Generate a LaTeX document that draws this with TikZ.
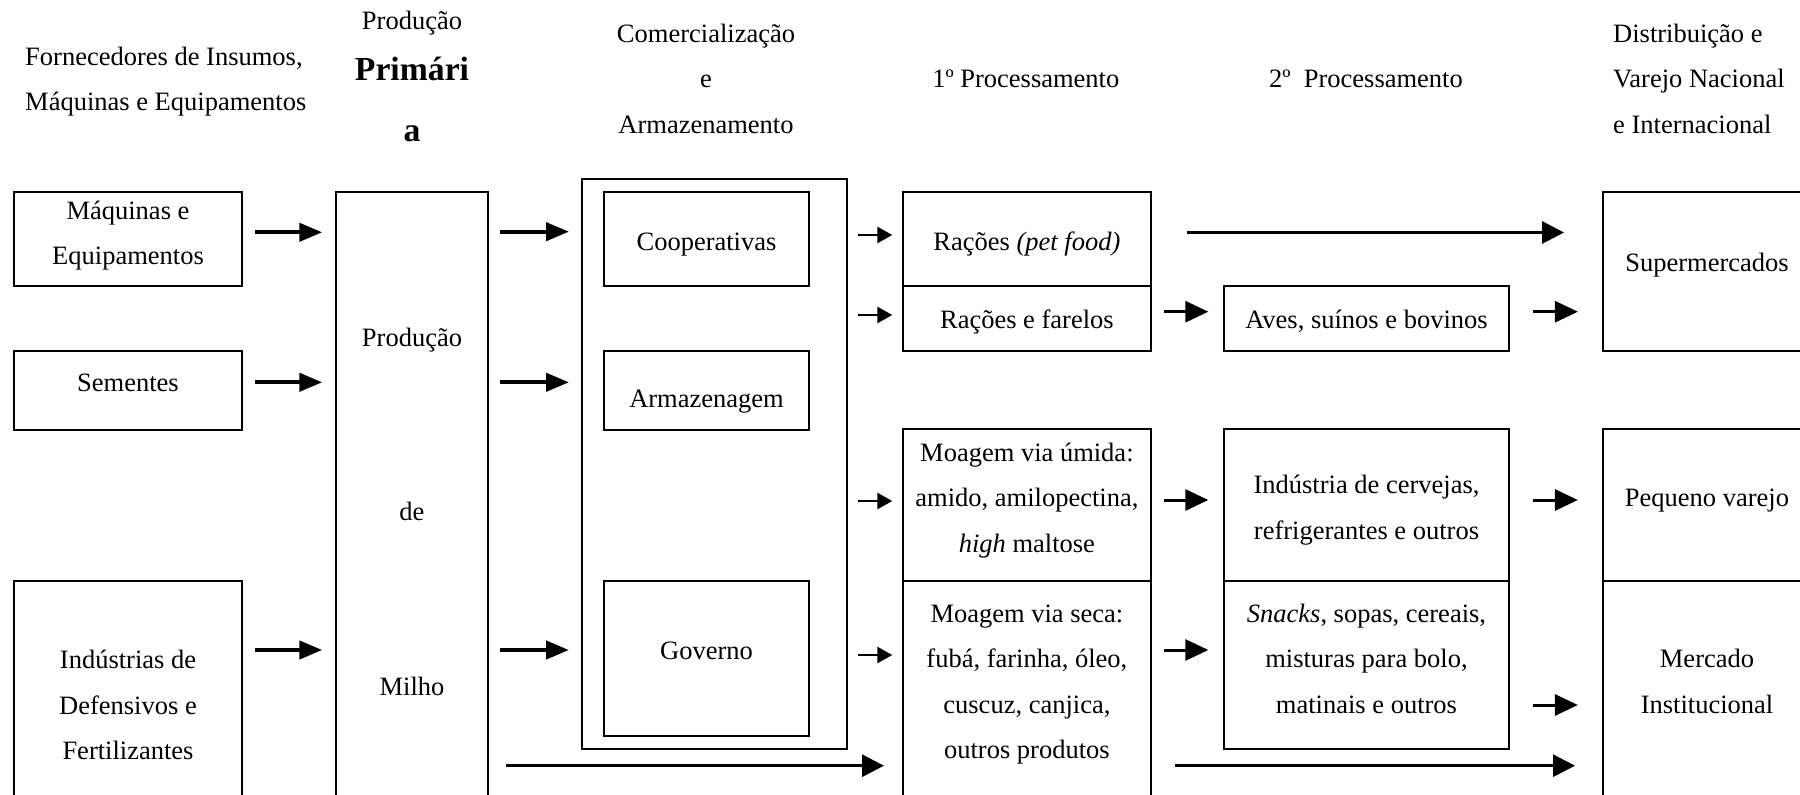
\documentclass[tikz,border=0pt]{standalone}
\usepackage{fontspec}
\setmainfont{Liberation Serif}
\usetikzlibrary{arrows.meta,calc}
\begin{document}
\begin{tikzpicture}[x=1pt,y=-1pt,
  box/.style={draw, line width=2pt, rectangle, inner sep=0pt},
  txt/.style={align=center, inner sep=0pt, font=\fontsize{26.5pt}{45.5pt}\selectfont},
  boldtxt/.style={inner sep=0pt, font=\fontsize{33.7pt}{40pt}\selectfont\bfseries},
  bigarr/.style={line width=4.3pt, -{Triangle[length=23pt,width=18pt]}},
  smallarr/.style={line width=2.7pt, -{Triangle[length=15pt,width=16pt]}},
  medarr/.style={line width=3pt, -{Triangle[length=23pt,width=21pt]}},
  longarr/.style={line width=3pt, -{Triangle[length=22pt,width=22pt]}}
]
\useasboundingbox (0,0) rectangle (1800,795);
\clip (0,0) rectangle (1800,795);

% ---------- headers ----------
\node[txt, align=left, anchor=west, font=\fontsize{26.5pt}{45pt}\selectfont] (hforn) at (25,81.5) {Fornecedores de Insumos,\\Máquinas e Equipamentos};
\node[txt, anchor=base] (hprodA) at (412,29.2) {Produção};
\node[boldtxt, anchor=base] (hprodB) at (412,80) {Primári};
\node[boldtxt, anchor=base] (hprodC) at (412,141) {a};
\node[txt] (hcom) at (706,78.7) {Comercialização\\e\\Armazenamento};
\node[txt] (hproc1) at (1025.8,79) {1º Processamento};
\node[txt] (hproc2) at (1366,79) {2º\ \ Processamento};
\node[txt, align=left, anchor=west] (hdist) at (1613,78.5) {Distribuição e\\Varejo Nacional\\e Internacional};

% ---------- boxes ----------
\node[box, minimum width=228pt, minimum height=94pt] (maq) at (128,238.7) {};
\node[box, minimum width=228pt, minimum height=79.3pt] (sem) at (128,390.4) {};
\node[box, minimum width=228pt, minimum height=249pt] (ind) at (128,705.5) {};
\node[box, minimum width=152pt, minimum height=640pt] (prod) at (412,511.7) {};
\node[box, minimum width=265pt, minimum height=569.7pt] (com) at (714.5,464.2) {};
\node[box, minimum width=205pt, minimum height=94pt] (coop) at (706.5,238.7) {};
\node[box, minimum width=205pt, minimum height=79.3pt] (arm) at (706.5,390.4) {};
\node[box, minimum width=205pt, minimum height=154.7pt] (gov) at (706.5,658.4) {};
\node[box, minimum width=247.2pt, minimum height=94pt] (racpet) at (1026.9,238.7) {};
\node[box, minimum width=247.2pt, minimum height=65.3pt] (racfar) at (1026.9,318.4) {};
\node[box, minimum width=247.2pt, minimum height=151.7pt] (umida) at (1026.9,505.2) {};
\node[box, minimum width=247.2pt, minimum height=249pt] (seca) at (1026.9,705.5) {};
\node[box, minimum width=284.2pt, minimum height=65.3pt] (aves) at (1366.5,318.4) {};
\node[box, minimum width=284.2pt, minimum height=151.7pt] (cerv) at (1366.5,505.2) {};
\node[box, minimum width=284.2pt, minimum height=168pt] (snack) at (1366.5,665) {};
\node[box, minimum width=209.5pt, minimum height=159.3pt] (super) at (1707.25,271.4) {};
\node[box, minimum width=209.5pt, minimum height=151.7pt] (peq) at (1707.25,505.2) {};
\node[box, minimum width=209.5pt, minimum height=249pt] (merc) at (1707.25,705.5) {};

% ---------- box texts ----------
\node[txt] (tmaq) at (128,235.7) {Máquinas e\\Equipamentos};
\node[txt] (tsem) at (128,383.3) {Sementes};
\node[txt] (tind) at (128,705) {Indústrias de\\Defensivos e\\Fertilizantes};
\node[txt] (tprod) at (412,511.7) {Produção\\[129pt]de\\[129pt]Milho};
\node[txt] (tcoop) at (706.5,244.2) {Cooperativas};
\node[txt] (tarm) at (706.5,401.8) {Armazenagem};
\node[txt] (tgov) at (706.5,651) {Governo};
\node[txt] (tracpet) at (1026.9,244.2) {Rações \textit{(pet food)}};
\node[txt] (tracfar) at (1026.9,321.5) {Rações e farelos};
\node[txt] (tumida) at (1026.9,500.3) {Moagem via úmida:\\amido, amilopectina,\\\textit{high} maltose};
\node[txt] (tseca) at (1026.9,684.5) {Moagem via seca:\\fubá, farinha, óleo,\\cuscuz, canjica,\\outros produtos};
\node[txt] (taves) at (1366.5,321) {Aves, suínos e bovinos};
\node[txt] (tcerv) at (1366.5,510) {Indústria de cervejas,\\refrigerantes e outros};
\node[txt] (tsnack) at (1366.5,658.6) {\textit{Snacks}, sopas, cereais,\\misturas para bolo,\\matinais e outros};
\node[txt] (tsuper) at (1707,265.3) {Supermercados};
\node[txt] (tpeq) at (1707,501) {Pequeno varejo};
\node[txt] (tmerc) at (1707,681.5) {Mercado\\Institucional};

% ---------- arrows: suppliers -> production ----------
\draw[bigarr] ($(maq.east)+(12,-6.4)$) -- ($(prod.west |- maq.east)+(-12.7,-6.4)$);
\draw[bigarr] ($(sem.east)+(12,-8.1)$) -- ($(prod.west |- sem.east)+(-12.7,-8.1)$);
\draw[bigarr] ($(ind.east)+(12,-55.5)$) -- ($(prod.west |- ind.east)+(-12.7,-55.5)$);

% ---------- production -> commercialization ----------
\draw[bigarr] ($(prod.east |- coop.west)+(11,-7)$) -- ($(com.west |- coop.west)+(-12,-7)$);
\draw[bigarr] ($(prod.east |- arm.west)+(11,-8.1)$) -- ($(com.west |- arm.west)+(-12,-8.1)$);
\draw[bigarr] ($(prod.east |- gov.west)+(11,-8.4)$) -- ($(com.west |- gov.west)+(-12,-8.4)$);

% ---------- commercialization -> 1st processing ----------
\draw[smallarr] ($(com.east |- racpet.west)+(10,-3.7)$) -- ($(racpet.west)+(-10,-3.7)$);
\draw[smallarr] ($(com.east |- racfar.west)+(10,-3.4)$) -- ($(racfar.west)+(-10,-3.4)$);
\draw[smallarr] ($(com.east |- umida.west)+(10,-4.2)$) -- ($(umida.west)+(-10,-4.2)$);
\draw[smallarr] ($(com.east |- seca.west)+(10,-50.5)$) -- ($(seca.west)+(-10,-50.5)$);

% ---------- 1st -> 2nd processing ----------
\draw[medarr] ($(racfar.east)+(12.8,-6.7)$) -- ($(aves.west)+(-15.1,-6.7)$);
\draw[medarr] ($(umida.east)+(12.8,-5.2)$) -- ($(cerv.west)+(-15.1,-5.2)$);
\draw[medarr] ($(seca.east |- snack.west)+(12.8,-15)$) -- ($(snack.west)+(-15.1,-15)$);

% ---------- 2nd processing -> distribution ----------
\draw[medarr] ($(aves.east)+(23,-6.7)$) -- ($(super.west |- aves.east)+(-23.6,-6.7)$);
\draw[medarr] ($(cerv.east)+(23,-5.2)$) -- ($(peq.west)+(-23.6,-5.2)$);
\draw[medarr] ($(snack.east |- merc.west)+(23,-0.5)$) -- ($(merc.west)+(-23.6,-0.5)$);

% ---------- long arrows ----------
\draw[longarr] ($(racpet.east)+(35.8,-6.2)$) -- ($(super.west |- racpet.east)+(-37.5,-6.2)$);
\draw[longarr] ($(prod.east |- seca.west)+(17,60.2)$) -- ($(seca.west)+(-18.3,60.2)$);
\draw[longarr] ($(seca.east)+(23.5,60.2)$) -- ($(merc.west |- seca.east)+(-26.5,60.2)$);
\end{tikzpicture}
\end{document}
